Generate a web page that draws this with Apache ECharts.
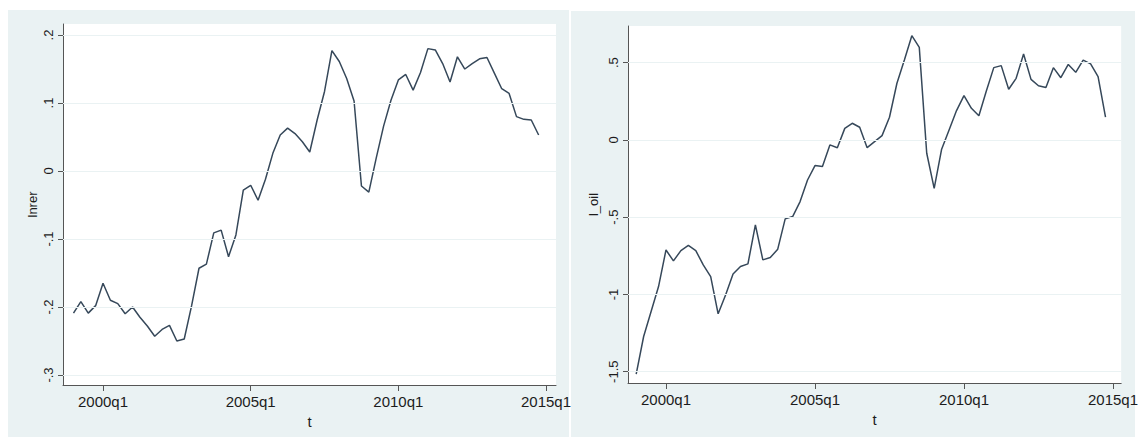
<!DOCTYPE html>
<html>
<head>
<meta charset="utf-8">
<script src="https://cdn.jsdelivr.net/npm/echarts@6/dist/echarts.min.js"></script>
<style>
  html, body { margin: 0; padding: 0; background: #fff; }
  #chart { width: 1141px; height: 437px; }
</style>
</head>
<body>
<div id="chart"></div>
<script>
// quarters as Stata %tq values, 1999q1 = 156 ... 2014q4 = 219
const firstQuarter = 156;

const lnrer = [
  -0.209, -0.192, -0.209, -0.198, -0.165, -0.190, -0.195, -0.210, -0.200, -0.215,
  -0.228, -0.243, -0.233, -0.227, -0.250, -0.247, -0.198, -0.143, -0.137, -0.091,
  -0.087, -0.126, -0.094, -0.028, -0.021, -0.043, -0.012, 0.026, 0.053, 0.063,
  0.055, 0.043, 0.028, 0.075, 0.117, 0.177, 0.161, 0.136, 0.103, -0.022,
  -0.031, 0.019, 0.066, 0.104, 0.134, 0.142, 0.119, 0.145, 0.180, 0.178,
  0.158, 0.131, 0.168, 0.150, 0.158, 0.165, 0.167, 0.144, 0.121, 0.114,
  0.080, 0.076, 0.075, 0.053
];

const l_oil = [
  -1.516, -1.272, -1.110, -0.949, -0.712, -0.783, -0.716, -0.683, -0.716, -0.809,
  -0.884, -1.125, -1.003, -0.867, -0.819, -0.802, -0.550, -0.776, -0.761, -0.707,
  -0.511, -0.496, -0.399, -0.259, -0.166, -0.172, -0.032, -0.050, 0.075, 0.108,
  0.082, -0.050, -0.011, 0.028, 0.147, 0.367, 0.517, 0.675, 0.599, -0.086,
  -0.313, -0.060, 0.065, 0.190, 0.287, 0.205, 0.157, 0.317, 0.468, 0.481,
  0.328, 0.399, 0.556, 0.392, 0.351, 0.339, 0.468, 0.403, 0.489, 0.438,
  0.517, 0.492, 0.410, 0.147
];

// x tick marks
const xTickValues = [160, 180, 200, 220];
const xTickLabels = ['2000q1', '2005q1', '2010q1', '2015q1'];

// y tick marks
const lnrerTicks = [0.2, 0.1, 0, -0.1, -0.2, -0.3];
const lnrerTickLabels = ['.2', '.1', '0', '-.1', '-.2', '-.3'];
const oilTicks = [0.5, 0, -0.5, -1, -1.5];
const oilTickLabels = ['.5', '0', '-.5', '-1', '-1.5'];

const bgColor = '#EAF2F3';
const lineColor = '#36485a';
const axisColor = '#555';
const textColor = '#1c1c1c';
const font = 'Liberation Sans';

function pairs(values) {
  return values.map((v, i) => [firstQuarter + i, v]);
}

function xAxisFor(gridIndex, min, max) {
  return {
    type: 'value', gridIndex: gridIndex, min: min, max: max,
    name: 't', nameLocation: 'middle', nameGap: 21,
    nameTextStyle: { color: textColor, fontSize: 15, fontFamily: font },
    axisLine: { show: true, onZero: false, lineStyle: { color: axisColor, width: 1 } },
    axisTick: { show: true, length: 6, customValues: xTickValues, lineStyle: { color: axisColor } },
    axisLabel: {
      customValues: xTickValues, margin: 9, color: textColor, fontSize: 15, fontFamily: font,
      formatter: v => xTickLabels[xTickValues.indexOf(v)]
    },
    splitLine: { show: false }
  };
}

function yAxisFor(gridIndex, min, max, name, ticks, labels, gap) {
  return {
    type: 'value', gridIndex: gridIndex, min: min, max: max,
    name: name, nameLocation: 'middle', nameGap: gap, nameRotate: 90,
    nameTextStyle: { color: textColor, fontSize: 13, fontFamily: font },
    axisLine: { show: true, onZero: false, lineStyle: { color: axisColor, width: 1 } },
    axisTick: { show: true, length: 5, customValues: ticks, lineStyle: { color: axisColor } },
    axisLabel: {
      customValues: ticks, rotate: 90, margin: 8, color: textColor, fontSize: 13, fontFamily: font,
      formatter: v => labels[ticks.findIndex(t => Math.abs(t - v) < 1e-9)]
    },
    splitLine: { show: false }
  };
}

function gridLines(ticks) {
  return {
    silent: true, symbol: 'none', animation: false,
    label: { show: false },
    lineStyle: { color: bgColor, width: 1.2, type: 'solid' },
    data: ticks.map(t => ({ yAxis: t }))
  };
}

const chart = echarts.init(document.getElementById('chart'), null, { renderer: 'svg' });

chart.setOption({
  animation: false,
  backgroundColor: '#fff',
  graphic: [
    { type: 'rect', z: -10, shape: { x: 8, y: 10, width: 561, height: 427 }, style: { fill: bgColor } },
    { type: 'rect', z: -10, shape: { x: 571, y: 11, width: 564, height: 426 }, style: { fill: bgColor } }
  ],
  grid: [
    { left: 63, top: 24, width: 493, height: 361, show: true, backgroundColor: '#fff', borderWidth: 0 },
    { left: 628, top: 26, width: 506, height: 357, show: true, backgroundColor: '#fff', borderWidth: 0 }
  ],
  xAxis: [
    xAxisFor(0, 154.58, 221.35),
    xAxisFor(1, 154.9, 221.1)
  ],
  yAxis: [
    yAxisFor(0, -0.3147, 0.2162, 'lnrer', lnrerTicks, lnrerTickLabels, 24),
    yAxisFor(1, -1.573, 0.7375, 'l_oil', oilTicks, oilTickLabels, 28)
  ],
  series: [
    {
      type: 'line', xAxisIndex: 0, yAxisIndex: 0,
      data: pairs(lnrer), showSymbol: false,
      lineStyle: { color: lineColor, width: 1.5 },
      markLine: gridLines(lnrerTicks)
    },
    {
      type: 'line', xAxisIndex: 1, yAxisIndex: 1,
      data: pairs(l_oil), showSymbol: false,
      lineStyle: { color: lineColor, width: 1.5 },
      markLine: gridLines(oilTicks)
    }
  ]
});
</script>
</body>
</html>
